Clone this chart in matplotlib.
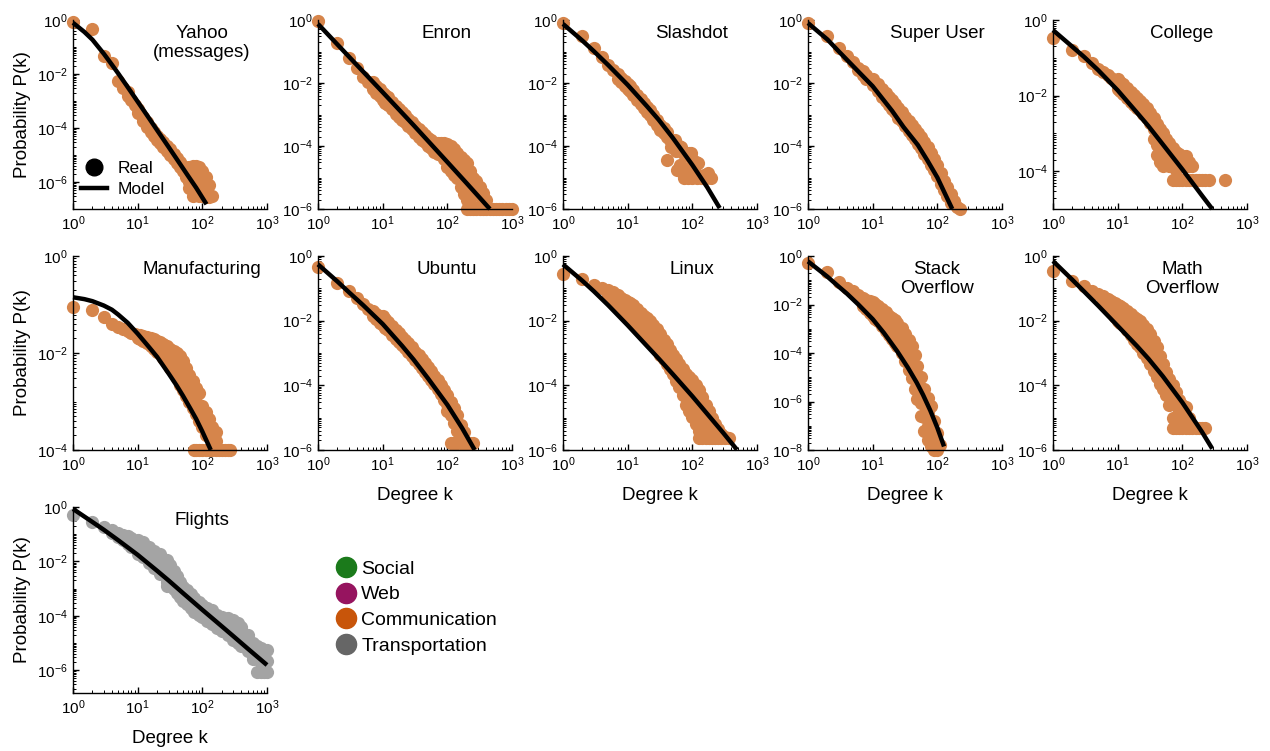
import numpy as np
import matplotlib
matplotlib.use('Agg')
import matplotlib.pyplot as plt
from matplotlib.lines import Line2D
from matplotlib.ticker import LogLocator, NullFormatter

plt.rcParams['font.family'] = ['Liberation Sans', 'DejaVu Sans']
plt.rcParams['mathtext.default'] = 'regular'

W, H = 1270, 751
ORANGE = '#D6854B'
GRAY = '#A4A4A4'

# ---- data ----
# each row: (degree k, P(k) values observed at that k)
yahoo_pts = [
    (1, 0.85), (2, 0.45), (3, 0.045), (4, 0.026), (5, 5.4e-3), (6, 3e-3), (7, 2.2e-3, 1.5e-3),
    (8, 1.1e-3), (9, 7e-4), (10, 5e-4, 3.5e-4), (11, 3.5e-4), (12, 2.5e-4, 1.8e-4),
    (14, 1.6e-4, 1.1e-4), (16, 1e-4, 7e-5), (18, 7e-5, 5e-5), (20, 5e-5, 3.5e-5),
    (22, 4e-5, 2.8e-5), (25, 3e-5, 2e-5), (28, 2.2e-5, 1.4e-5), (32, 1.6e-5, 1e-5),
    (36, 1.1e-5, 7e-6), (40, 8e-6, 5e-6), (45, 5.5e-6, 3.5e-6), (50, 4e-6, 2.5e-6),
    (56, 3e-6, 1.5e-6), (63, 3.5e-6, 1e-6, 6e-7), (71, 4e-6, 2.5e-6, 1.2e-6, 6e-7, 3e-7),
    (80, 4e-6, 2.5e-6, 1e-6, 4e-7), (90, 3.5e-6, 1.5e-6, 3e-7), (100, 2.5e-6, 1e-6, 3e-7),
    (112, 1.5e-6, 6e-7, 2.8e-7), (125, 8e-7, 2.8e-7), (140, 3e-7)]
yahoo_fit_k = [1, 1.5, 2, 3, 4, 5, 7, 10, 15, 20, 30, 40, 60, 80, 116]
yahoo_fit_p = [0.79, 0.36, 0.186, 0.056, 0.022, 0.0105, 0.0033, 9.5e-4, 2.3e-4, 8.3e-5,
               2e-5, 7.2e-6, 1.7e-6, 6.2e-7, 1.5e-7]

enron_pts = [
    (1, 0.9), (2, 0.18), (3, 0.06), (4, 0.029), (5, 0.016), (6, 0.011),
    (7, 0.011, 0.0063), (8, 0.0083, 0.0048), (9, 0.0066, 0.0038), (10, 0.0049, 0.0028),
    (11, 0.0042, 0.0024), (12, 0.0035, 0.002), (14, 0.0025, 0.00145), (16, 0.0019, 0.00107),
    (18, 0.0015, 8.5e-4), (20, 0.00117, 6.8e-4), (22, 9.8e-4, 5.6e-4), (25, 7.4e-4, 4.3e-4),
    (28, 5.9e-4, 3.4e-4), (32, 4.4e-4, 2.5e-4), (36, 3.5e-4, 2e-4), (40, 2.8e-4, 1.6e-4),
    (45, 2.2e-4, 1.3e-4), (50, 1.8e-4, 1e-4), (56, 1.5e-4, 8.5e-5), (63, 1.26e-4, 6.3e-5),
    (71, 1.26e-4, 5.6e-5), (80, 1.26e-4, 5e-5), (90, 1.26e-4, 4e-5), (100, 1.2e-4, 5e-5, 2.2e-5),
    (112, 1e-4, 4e-5, 1.6e-5), (125, 8e-5, 3e-5, 1.2e-5), (140, 6e-5, 2.2e-5, 1e-5),
    (160, 4.5e-5, 1.6e-5, 5e-6), (180, 3.5e-5, 1.2e-5, 3e-6), (200, 2.8e-5, 8e-6, 2e-6, 1e-6),
    (225, 1.6e-5, 5e-6, 1.6e-6, 1e-6), (250, 1e-5, 3.5e-6, 1e-6), (280, 8e-6, 3e-6, 1e-6),
    (320, 5e-6, 2.5e-6, 1e-6), (360, 3.2e-6, 1.8e-6, 1e-6), (400, 2e-6, 1e-6), (450, 1e-6),
    (500, 1e-6), (560, 1e-6), (630, 1e-6), (710, 1e-6), (800, 1e-6), (900, 1e-6), (1000, 1e-6)]
enron_fit_k = [1, 3, 10, 30, 100, 200, 455]
enron_fit_p = [0.75, 0.069, 5.1e-3, 4.6e-4, 3.1e-5, 6.5e-6, 1e-6]

slashdot_pts = [
    (1, 0.82), (2, 0.3), (3, 0.126), (4, 0.069), (5, 0.037), (6, 0.025),
    (7, 0.019, 0.013), (8, 0.0145, 0.0105), (9, 0.012, 0.0083), (10, 0.0095, 0.0066),
    (11, 0.008, 0.0055), (12, 0.006, 0.0042), (14, 0.0041, 0.0028), (16, 0.003, 0.0021),
    (18, 0.0023, 0.0016), (20, 0.0017, 0.0012), (22, 0.00135, 9.3e-4), (25, 9.5e-4, 6.6e-4),
    (28, 6.8e-4, 4.7e-4), (32, 4.8e-4, 3.3e-4), (36, 3.6e-4, 2.5e-4), (40, 2.7e-4, 1.9e-4),
    (41, 3.6e-5), (45, 1.5e-4), (47, 9.5e-5), (50, 1.2e-4), (53, 1.5e-4), (56, 7e-5),
    (58, 1.7e-5), (63, 1e-4), (65, 2.5e-5), (66, 9.5e-5), (70, 1.5e-5), (71, 6e-5),
    (75, 9.4e-6), (80, 5e-5), (85, 2e-5, 9.4e-6), (90, 6e-5), (95, 5.9e-5), (100, 4e-5, 9.4e-6),
    (110, 1.5e-5), (112, 3e-5), (120, 9.4e-6), (122, 2.8e-5), (136, 9.4e-6), (150, 1.2e-5),
    (160, 9.4e-6), (174, 1.35e-5), (195, 9.4e-6)]
slashdot_fit_k = [1, 2, 3, 5, 10, 20, 30, 50, 100, 170, 265]
slashdot_fit_p = [0.75, 0.22, 0.102, 0.037, 8.7e-3, 1.8e-3, 6.9e-4, 1.8e-4, 2.5e-5, 4.9e-6, 1.07e-6]

superuser_pts = [
    (1, 0.8), (2, 0.3), (3, 0.13), (4, 0.07), (5, 0.045), (6, 0.03, 0.025), (7, 0.024, 0.018),
    (8, 0.018, 0.013), (10, 0.013, 0.0085), (12, 0.009, 0.0055), (14, 0.0065, 0.0037),
    (16, 0.0048, 0.0027), (18, 0.0036, 0.002), (20, 0.0028, 0.0015), (22, 0.0022, 0.0012),
    (25, 0.0016, 8e-4), (28, 0.0012, 6e-4), (32, 8.5e-4, 4.3e-4), (36, 6.3e-4, 3.1e-4),
    (40, 4.8e-4, 2.3e-4), (45, 3.5e-4, 1.7e-4), (50, 2.6e-4, 1.2e-4), (56, 1.9e-4, 8.5e-5),
    (63, 1.3e-4, 5.7e-5), (71, 9e-5, 4e-5), (80, 6e-5, 2.5e-5), (90, 4e-5, 1.7e-5),
    (100, 2.5e-5, 1.1e-5), (112, 1.4e-5, 6e-6), (125, 8e-6, 4e-6), (140, 5e-6, 2.5e-6),
    (160, 3e-6, 1.5e-6), (180, 1.8e-6), (200, 1.2e-6), (225, 1e-6)]
superuser_fit_k = [1, 2, 3, 5, 10, 20, 30, 50, 70, 100, 130, 170]
superuser_fit_p = [0.8, 0.24, 0.1, 0.034, 7.9e-3, 1.3e-3, 4e-4, 1.07e-4, 3.5e-5, 1e-5, 3.2e-6, 1e-6]

college_pts = [
    (1, 0.34), (2, 0.16), (3, 0.11), (4, 0.074), (5, 0.052), (6, 0.042), (7, 0.036), (8, 0.03),
    (9, 0.026), (10, 0.027, 0.015), (11, 0.023, 0.013), (12, 0.02, 0.011), (14, 0.016, 0.0087),
    (16, 0.0126, 0.0069), (18, 0.0105, 0.0058), (20, 0.0087, 0.0048), (22, 0.0074, 0.0041),
    (25, 0.0059, 0.0032), (28, 0.0047, 0.0026), (32, 0.0035, 0.0019), (36, 0.0026, 0.0013, 7e-4),
    (40, 0.0018, 9e-4, 5e-4, 2.7e-4), (45, 0.0013, 6.5e-4, 3.2e-4, 1.8e-4),
    (50, 0.001, 5e-4, 2.5e-4, 1.35e-4), (56, 7e-4, 3.5e-4, 1.8e-4), (63, 5.5e-4, 2.8e-4, 1.35e-4),
    (71, 4e-4, 2.5e-4, 1.35e-4, 6e-5), (80, 3.2e-4, 1.9e-4, 1.1e-4, 6e-5), (90, 2.8e-4, 1.6e-4, 6e-5),
    (100, 2.6e-4, 1.35e-4, 6e-5), (112, 2.5e-4, 1.35e-4, 6e-5), (125, 1.8e-4, 1.35e-4, 6e-5),
    (140, 1.35e-4, 6e-5), (160, 6e-5), (180, 6e-5), (200, 6e-5), (225, 6e-5), (257, 6e-5), (465, 6e-5)]
college_fit_k = [1, 2, 3, 5, 10, 20, 30, 50, 100, 200, 290]
college_fit_p = [0.54, 0.195, 0.107, 0.047, 0.0138, 3.5e-3, 1.55e-3, 5.1e-4, 1.12e-4, 2.3e-5, 1e-5]

manuf_pts = [
    (1, 0.087), (2, 0.076), (3, 0.054), (4, 0.039), (5, 0.034), (6, 0.031), (7, 0.028), (8, 0.026),
    (9, 0.025), (10, 0.024, 0.02), (11, 0.023, 0.019), (12, 0.022, 0.018), (14, 0.021, 0.016),
    (16, 0.02, 0.014), (18, 0.019, 0.012), (20, 0.018, 0.0105), (22, 0.017, 0.01), (25, 0.015, 0.008),
    (28, 0.014, 0.0065), (32, 0.012, 0.0078, 0.005), (36, 0.011, 0.0065, 0.004),
    (40, 0.0098, 0.0055, 0.003), (45, 0.0087, 0.0045, 0.0022), (50, 0.007, 0.0035, 0.0017),
    (56, 0.0048, 0.0025, 0.0013), (63, 0.0035, 0.0018, 0.001), (71, 0.0027, 0.0014, 7.5e-4),
    (74, 1e-4), (80, 0.0019, 0.001, 5.5e-4, 1e-4), (90, 0.0015, 7.5e-4, 4e-4, 1e-4),
    (100, 8e-4, 4.5e-4, 3e-4, 1e-4), (112, 6e-4, 3.5e-4, 2e-4, 1e-4), (125, 4.3e-4, 2.5e-4, 1e-4),
    (140, 3e-4, 1.8e-4, 1e-4), (160, 2.3e-4, 1.5e-4, 1e-4), (180, 1e-4), (200, 1e-4), (225, 1e-4),
    (250, 1e-4), (270, 1e-4)]
manuf_fit_k = [1, 1.5, 2, 3, 4, 5, 7, 10, 15, 20, 30, 40, 50, 65, 80, 100, 135]
manuf_fit_p = [0.141, 0.129, 0.117, 0.095, 0.078, 0.062, 0.042, 0.025, 0.0132, 0.0083, 0.0038,
               0.00214, 0.00132, 7.2e-4, 4.4e-4, 2.4e-4, 1e-4]

ubuntu_pts = [
    (1, 0.47), (2, 0.15), (3, 0.083), (4, 0.05), (5, 0.032), (6, 0.023), (7, 0.02, 0.0135),
    (8, 0.0165, 0.011), (9, 0.014, 0.0083), (10, 0.0135, 0.0074), (11, 0.011, 0.006),
    (12, 0.0093, 0.005), (14, 0.0068, 0.0037), (16, 0.0052, 0.0028), (18, 0.0041, 0.0022),
    (20, 0.0032, 0.0018), (22, 0.0026, 0.0014), (25, 0.002, 0.0011), (28, 0.0015, 8.2e-4),
    (32, 0.0011, 6e-4), (36, 8.5e-4, 4.6e-4), (40, 6.5e-4, 3.5e-4), (45, 5e-4, 2.6e-4),
    (50, 3.8e-4, 2e-4), (56, 2.8e-4, 1.5e-4), (63, 2e-4, 1.1e-4), (71, 1.45e-4, 7.5e-5),
    (80, 1e-4, 5.5e-5), (90, 7e-5, 3.6e-5), (100, 5e-5, 2.6e-5, 1.6e-5), (112, 3e-5, 1.2e-5, 1.7e-6),
    (125, 2e-5, 7e-6, 1.7e-6), (140, 1.2e-5, 4e-6, 1.7e-6), (160, 6e-6, 2.5e-6, 1.7e-6),
    (180, 3.5e-6, 1.7e-6), (200, 1.7e-6), (225, 1.7e-6), (250, 1.7e-6)]
ubuntu_fit_k = [1, 2, 3, 5, 10, 20, 30, 50, 100, 170, 265]
ubuntu_fit_p = [0.55, 0.162, 0.076, 0.03, 7.9e-3, 1.66e-3, 6.3e-4, 1.66e-4, 2.5e-5, 4.7e-6, 1e-6]

linux_pts = [
    (1, 0.27), (2, 0.19), (3, 0.13), (4, 0.1), (5, 0.089, 0.056), (6, 0.076, 0.042),
    (7, 0.063, 0.032), (8, 0.052, 0.034, 0.022), (9, 0.045, 0.027, 0.016), (10, 0.039, 0.021, 0.0117),
    (11, 0.034, 0.019, 0.0105), (12, 0.0295, 0.0166, 0.0093), (14, 0.0224, 0.0126, 0.0071),
    (16, 0.0178, 0.0095, 0.005), (18, 0.0141, 0.0075, 0.004), (20, 0.0117, 0.0061, 0.0032),
    (22, 0.01, 0.0051, 0.0026), (25, 0.0076, 0.0038, 0.0019), (28, 0.0056, 0.0028, 0.0014),
    (32, 0.0038, 0.0018, 8.9e-4), (36, 0.0026, 0.0013, 6.3e-4), (40, 0.0019, 9.2e-4, 4.5e-4),
    (45, 0.00126, 6.3e-4, 3.2e-4), (50, 8.9e-4, 4.5e-4, 2.2e-4), (56, 6.3e-4, 3e-4, 1.4e-4),
    (63, 4.5e-4, 2e-4, 8.9e-5), (71, 3.2e-4, 1.26e-4, 5e-5), (80, 2.2e-4, 9e-5, 4.3e-5, 2.5e-5),
    (90, 1.8e-4, 7e-5, 3e-5, 1.6e-5), (100, 1.5e-4, 7.5e-5, 4e-5, 2e-5, 1.05e-5),
    (112, 1e-4, 5e-5, 2.5e-5, 1.2e-5, 6.3e-6), (125, 7e-5, 3.5e-5, 1.7e-5, 8e-6, 4e-6, 2.4e-6),
    (140, 4.5e-5, 2.2e-5, 1.1e-5, 5e-6, 2.4e-6), (160, 2.5e-5, 1.4e-5, 8e-6, 4e-6, 2.4e-6),
    (180, 1.6e-5, 9e-6, 5e-6, 2.4e-6), (200, 1e-5, 6e-6, 4e-6, 2.4e-6), (225, 6.3e-6, 3.5e-6, 2.4e-6),
    (250, 4.5e-6, 2.4e-6), (280, 3.2e-6, 2.4e-6), (320, 2.5e-6, 2.4e-6), (365, 2.4e-6)]
linux_fit_k = [1, 2, 3, 5, 10, 20, 30, 50, 100, 200, 300, 490]
linux_fit_p = [0.55, 0.17, 0.081, 0.030, 7.2e-3, 1.62e-3, 6.8e-4, 2.2e-4, 4.6e-5, 8.9e-6, 3.4e-6, 1.02e-6]

stack_pts = [
    (1, 0.51), (2, 0.21), (3, 0.082), (4, 0.05), (5, 0.035), (6, 0.024), (7, 0.019, 0.0089),
    (8, 0.0158, 0.0063), (9, 0.0138, 0.0045), (10, 0.0123, 0.0065, 0.0034),
    (11, 0.0105, 0.0052, 0.0026), (12, 0.0089, 0.0042, 0.002), (14, 0.0063, 0.0028, 0.00126),
    (16, 0.0047, 0.0019, 7.9e-4), (18, 0.0035, 0.0014, 5.4e-4), (20, 0.0028, 0.001, 3.8e-4),
    (22, 0.0022, 7.8e-4, 2.7e-4), (24, 0.0018, 6e-4, 2e-4), (28, 0.0011, 3.3e-4, 1e-4),
    (32, 6.3e-4, 1.7e-4, 4.5e-5), (36, 3.5e-4, 1.35e-4, 5.2e-5, 2e-5), (40, 2e-4, 7e-5, 2.5e-5, 8.9e-6),
    (45, 7.9e-5, 2.7e-5, 9.3e-6, 3.2e-6), (49, 3e-5, 1e-5, 3.6e-6, 1.26e-6),
    (56, 1e-5, 3e-6, 8.5e-7, 2.5e-7), (63, 3.2e-6, 8.5e-7, 2.3e-7, 6.3e-8),
    (71, 1.4e-6, 3.7e-7, 9.5e-8, 2.5e-8), (79, 6.5e-7, 1.8e-7, 5e-8, 1.4e-8),
    (90, 1.6e-7, 4e-8, 1e-8), (100, 5e-8, 1e-8), (110, 1.6e-8)]
stack_fit_k = [1, 2, 3, 4, 6, 10, 15, 24, 35, 48, 60, 78, 100, 127]
stack_fit_p = [0.6, 0.14, 0.054, 0.028, 0.01, 2.5e-3, 6.6e-4, 1.17e-4, 2.5e-5, 6e-6, 1.9e-6,
               4.2e-7, 8.3e-8, 1.4e-8]

math_pts = [
    (1, 0.34), (2, 0.17), (3, 0.12), (4, 0.082), (5, 0.065), (6, 0.056, 0.04),
    (7, 0.048, 0.035, 0.025), (8, 0.042, 0.027, 0.018), (9, 0.036, 0.021, 0.0126),
    (10, 0.0316, 0.017, 0.0095), (11, 0.028, 0.015, 0.0083), (12, 0.025, 0.0133, 0.0071),
    (14, 0.02, 0.01, 0.005), (16, 0.0158, 0.0075, 0.0035), (18, 0.0132, 0.0058, 0.0025),
    (20, 0.0112, 0.0046, 0.0019), (22, 0.0095, 0.0037, 0.0015), (25, 0.0072, 0.0027, 0.001),
    (28, 0.0055, 0.002, 7e-4), (32, 0.0038, 0.0013, 4.5e-4), (36, 0.0024, 8.2e-4, 2.8e-4),
    (40, 0.0015, 5.2e-4, 1.8e-4), (45, 7.9e-4, 3e-4, 1.1e-4), (50, 4.5e-4, 1.9e-4, 7.9e-5),
    (56, 2.5e-4, 1.1e-4, 5e-5), (63, 1.6e-4, 6.3e-5, 2.5e-5), (71, 1e-4, 3.2e-5, 1e-5, 4.7e-6),
    (80, 6.3e-5, 2.5e-5, 1e-5, 4.7e-6), (90, 3.5e-5, 1.6e-5, 4.7e-6), (100, 2.5e-5, 1.2e-5, 4.7e-6),
    (112, 2.2e-5, 1e-5, 4.7e-6), (125, 1e-5, 4.7e-6), (140, 4.7e-6), (160, 4.7e-6), (180, 4.7e-6),
    (200, 4.7e-6), (227, 4.7e-6)]
math_fit_k = [1, 2, 3, 5, 10, 20, 30, 50, 100, 200, 290]
math_fit_p = [0.7, 0.182, 0.081, 0.029, 6.9e-3, 1.62e-3, 6.6e-4, 1.9e-4, 2.95e-5, 3.7e-6, 1.1e-6]

flights_pts = [
    (1, 0.49), (2, 0.28), (3, 0.19), (4, 0.14, 0.11), (5, 0.11, 0.08), (6, 0.095, 0.06),
    (7, 0.083, 0.045), (8, 0.074, 0.035), (10, 0.06, 0.034, 0.0195), (12, 0.05, 0.027, 0.014),
    (15, 0.034, 0.017, 0.009), (18, 0.025, 0.012, 0.0056), (22, 0.018, 0.008, 0.0035),
    (28, 0.011, 0.0045, 0.0018, 0.0012), (32, 0.0071, 0.0032, 0.0014), (36, 0.0045, 0.0021, 0.001),
    (40, 0.0028, 0.0014, 7e-4), (45, 0.0018, 9.5e-4, 5e-4), (50, 0.0011, 6.3e-4, 3.5e-4),
    (58, 8.7e-4, 5e-4, 2.8e-4), (66, 6.3e-4, 2e-4), (75, 4.5e-4, 1.4e-4), (88, 3.2e-4, 1.1e-4),
    (100, 2.5e-4, 9e-5), (120, 2e-4, 6.3e-5), (140, 1.6e-4, 5e-5), (170, 1.1e-4, 3.5e-5),
    (200, 9e-5, 2.8e-5), (250, 8e-5, 4e-5, 2e-5), (300, 7e-5, 3e-5, 1.26e-5),
    (350, 5.6e-5, 2.4e-5, 1e-5), (400, 4e-5, 1.8e-5, 8e-6), (500, 2e-5, 1e-5, 5e-6),
    (600, 1e-5, 5e-6, 2.5e-6), (700, 8e-6, 2.6e-6, 8.7e-7), (800, 6.3e-6, 2.3e-6, 8.7e-7),
    (900, 5.5e-6, 2.2e-6, 8.7e-7), (1000, 5.5e-6, 2.2e-6, 8.7e-7)]
flights_fit_k = [1, 2, 3, 5, 10, 20, 30, 50, 100, 200, 300, 500, 1000]
flights_fit_p = [0.85, 0.28, 0.145, 0.06, 0.0174, 4.5e-3, 2e-3, 6.9e-4, 1.66e-4, 4.1e-5,
                 1.8e-5, 6.3e-6, 1.55e-6]

category_names = ['Social', 'Web', 'Communication', 'Transportation']
category_colors = ['#1B7A1B', '#96145F', '#C8550A', '#666666']

fig = plt.figure(figsize=(W / 100, H / 100), dpi=100)


def px_rect(left, top, width, height):
    return [left / W, 1 - (top + height) / H, width / W, height / H]


def draw_panel(rect, pts, fit_k, fit_p, title, ymin, color=ORANGE,
               ylabel=False, xlabel=False):
    ax = fig.add_axes(rect)
    ks = [row[0] for row in pts for _ in row[1:]]
    ps = [v for row in pts for v in row[1:]]
    ax.plot(ks, ps, 'o', color=color, ms=9.5, mec='none', clip_on=False, zorder=2)
    ax.plot(fit_k, fit_p, '-', color='black', lw=3.2, clip_on=False, zorder=3,
            solid_capstyle='butt', solid_joinstyle='round')
    ax.set_xscale('log')
    ax.set_yscale('log')
    ax.set_xlim(1, 1000)
    ax.set_ylim(ymin, 1)
    for s in ['top', 'right']:
        ax.spines[s].set_visible(False)
    for s in ['left', 'bottom']:
        ax.spines[s].set_linewidth(1.0)
    ax.xaxis.set_major_locator(LogLocator(base=10, numticks=10))
    ax.yaxis.set_major_locator(LogLocator(base=100, numticks=10))
    for axis in (ax.xaxis, ax.yaxis):
        axis.set_minor_locator(LogLocator(base=10, subs=np.arange(1, 10), numticks=100))
        axis.set_minor_formatter(NullFormatter())
    ax.tick_params(which='both', direction='in', labelsize=11, pad=4)
    ax.tick_params(which='major', length=4, width=1)
    ax.tick_params(which='minor', length=2.5, width=0.7)
    ax.text(0.665, 0.975, title, transform=ax.transAxes, ha='center', va='top',
            fontsize=13.5, linespacing=1.15)
    if ylabel:
        ax.set_ylabel('Probability P(k)', fontsize=13.5, labelpad=4)
    if xlabel:
        ax.set_xlabel('Degree k', fontsize=13.5, labelpad=9)
    return ax


cols = [73, 318, 563, 808, 1053]
pw = 194

ax_yahoo = draw_panel(px_rect(cols[0], 20, pw, 189), yahoo_pts, yahoo_fit_k, yahoo_fit_p,
                      'Yahoo\n(messages)', 1e-7, ylabel=True)
draw_panel(px_rect(cols[1], 20, pw, 189), enron_pts, enron_fit_k, enron_fit_p, 'Enron', 1e-6)
draw_panel(px_rect(cols[2], 20, pw, 189), slashdot_pts, slashdot_fit_k, slashdot_fit_p,
           'Slashdot', 1e-6)
draw_panel(px_rect(cols[3], 20, pw, 189), superuser_pts, superuser_fit_k, superuser_fit_p,
           'Super User', 1e-6)
draw_panel(px_rect(cols[4], 20, pw, 189), college_pts, college_fit_k, college_fit_p,
           'College', 1e-5)

draw_panel(px_rect(cols[0], 256, pw, 194), manuf_pts, manuf_fit_k, manuf_fit_p,
           'Manufacturing', 1e-4, ylabel=True)
draw_panel(px_rect(cols[1], 256, pw, 194), ubuntu_pts, ubuntu_fit_k, ubuntu_fit_p,
           'Ubuntu', 1e-6, xlabel=True)
draw_panel(px_rect(cols[2], 256, pw, 194), linux_pts, linux_fit_k, linux_fit_p,
           'Linux', 1e-6, xlabel=True)
draw_panel(px_rect(cols[3], 256, pw, 194), stack_pts, stack_fit_k, stack_fit_p,
           'Stack\nOverflow', 1e-8, xlabel=True)
draw_panel(px_rect(cols[4], 256, pw, 194), math_pts, math_fit_k, math_fit_p,
           'Math\nOverflow', 1e-6, xlabel=True)

draw_panel(px_rect(cols[0], 507, pw, 186), flights_pts, flights_fit_k, flights_fit_p,
           'Flights', 1.45e-7, color=GRAY, ylabel=True, xlabel=True)

# Real / Model key inside the Yahoo panel
key_handles = [Line2D([], [], marker='o', ls='', color='black', ms=12),
               Line2D([], [], color='black', lw=3.2)]
ax_yahoo.legend(key_handles, ['Real', 'Model'], loc='lower left', bbox_to_anchor=(-0.02, 0.0),
                frameon=False, fontsize=12.5, handlelength=1.5, handletextpad=0.6,
                labelspacing=0.3, borderpad=0.2)

# network category key
cat_handles = [Line2D([], [], marker='o', ls='', color=c, ms=14.5) for c in category_colors]
fig.legend(cat_handles, category_names, loc='upper left', bbox_to_anchor=(337 / W, 1 - 560 / H),
           frameon=False, fontsize=14, handlelength=0.9, handletextpad=0.35,
           labelspacing=0.42, borderpad=0, borderaxespad=0)

fig.savefig('out.png', dpi=100)
